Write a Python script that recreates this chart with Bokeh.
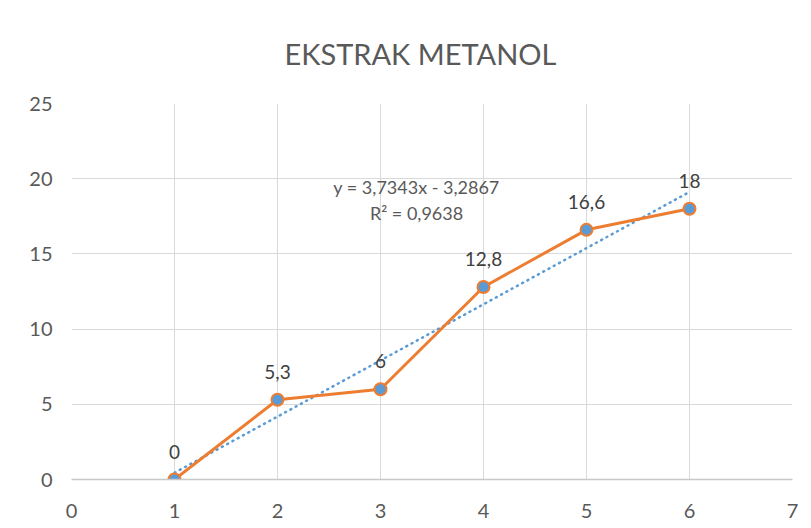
import numpy as np
from bokeh.plotting import figure
from bokeh.models import ColumnDataSource, FixedTicker, Range1d, Label
from bokeh.core.properties import value
from bokeh.embed import file_html
from bokeh.resources import INLINE

# data
x_vals = [1, 2, 3, 4, 5, 6]
y_vals = [0, 5.3, 6, 12.8, 16.6, 18]
x_ticks = [0, 1, 2, 3, 4, 5, 6, 7]
y_ticks = [0, 5, 10, 15, 20, 25]
title_text = "EKSTRAK METANOL"

FONT = "Lato"

def fmt(v, nd=None):
    s = (f"{v:.{nd}f}" if nd is not None else f"{v:g}")
    return s.replace(".", ",")

labels = [fmt(v) for v in y_vals]
src = ColumnDataSource(dict(x=x_vals, y=y_vals, lab=labels))

slope, intercept = np.polyfit(x_vals, y_vals, 1)
pred = slope * np.array(x_vals) + intercept
ss_res = np.sum((np.array(y_vals) - pred) ** 2)
ss_tot = np.sum((np.array(y_vals) - np.mean(y_vals)) ** 2)
r2 = 1 - ss_res / ss_tot
tx = [min(x_vals), max(x_vals)]
ty = [slope * t + intercept for t in tx]

p = figure(width=803, height=520, output_backend="svg", toolbar_location=None,
           x_range=Range1d(0, 7), y_range=Range1d(0, 25),
           min_border_left=71, min_border_right=11, min_border_bottom=41, min_border_top=102)

p.title.text = title_text
p.title.align = "left"
p.title.text_font = FONT
p.title.text_font_size = "29px"
p.title.text_font_style = "normal"
p.title.text_color = "#595959"
p.title.standoff = 66
p.title.offset = 213

p.outline_line_color = None
p.background_fill_color = "white"
p.border_fill_color = "white"

p.xaxis.ticker = FixedTicker(ticks=x_ticks)
p.yaxis.ticker = FixedTicker(ticks=y_ticks)
for ax in (p.xaxis[0], p.yaxis[0]):
    ax.major_tick_line_color = None
    ax.minor_tick_line_color = None
    ax.major_label_text_font = FONT
    ax.major_label_text_font_size = "20px"
    ax.major_label_text_color = "#595959"
p.yaxis.major_label_standoff = 13
p.xaxis.major_label_standoff = 18
p.yaxis.axis_line_color = None
p.xaxis.axis_line_color = "#c8c8c8"
p.xaxis.axis_line_width = 1.5

p.xgrid.grid_line_color = "#d9d9d9"
p.ygrid.grid_line_color = "#d9d9d9"
p.xgrid.ticker = FixedTicker(ticks=x_ticks)
p.ygrid.ticker = FixedTicker(ticks=y_ticks)

# trendline
p.line(tx, ty, line_color="#5b9bd5", line_width=2.5, line_dash="1 5", line_cap="round")

# series
p.line("x", "y", source=src, line_color="#ed7d31", line_width=3)
p.scatter("x", "y", source=src, size=12, fill_color="#5b9bd5", line_color="#ed7d31", line_width=2)

p.text("x", "y", text="lab", source=src, text_align="center", text_baseline="bottom",
       y_offset=-21, text_font=value(FONT), text_font_size="19px", text_color="#404040")

eq1 = f"y = {fmt(slope, 4)}x - {fmt(-intercept, 4)}" if intercept < 0 else f"y = {fmt(slope, 4)}x + {fmt(intercept, 4)}"
eq2 = f"R² = {fmt(r2, 4)}"
p.add_layout(Label(x=3.35, y=19.45, text=eq1, text_align="center", text_baseline="middle",
                   text_font=FONT, text_font_size="18px", text_color="#595959"))
p.add_layout(Label(x=3.35, y=17.7, text=eq2, text_align="center", text_baseline="middle",
                   text_font=FONT, text_font_size="18px", text_color="#595959"))

open("out.html", "w").write(file_html(p, INLINE))
